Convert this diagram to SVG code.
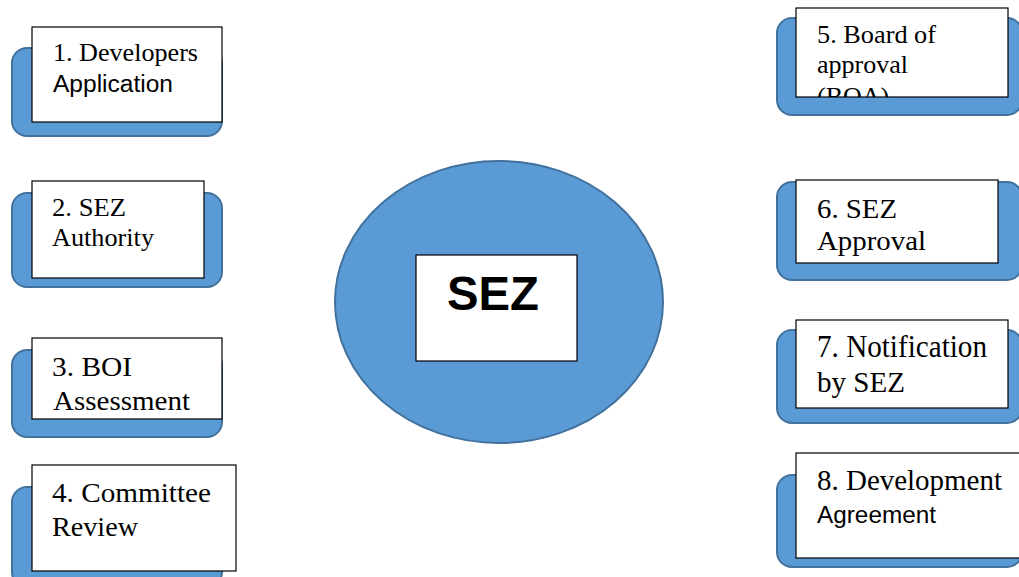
<svg xmlns="http://www.w3.org/2000/svg" width="1019" height="577" viewBox="0 0 1019 577">
<style>
.bg{fill:#5B9BD5;stroke:#41719C;stroke-width:2}
.box{fill:#FFFFFF;stroke:#000000;stroke-width:1.2}
.t{font-family:"Liberation Serif","Times New Roman",serif;fill:#000}
.s{font-family:"Liberation Sans",Arial,sans-serif;fill:#000}
.c{font-family:"Liberation Sans",Arial,sans-serif;font-weight:bold;font-size:48px;fill:#000}
</style>
<defs>
<clipPath id="clip5"><rect x="796" y="8" width="212" height="89"/></clipPath>
</defs>
<rect width="1019" height="577" fill="#FFFFFF"/>
<g id="node1">
<rect class="bg" x="12" y="48" width="210" height="88" rx="15"/>
<rect class="box" x="32" y="27" width="190" height="95"/>
<text class="t" x="53" y="61" font-size="26" textLength="145" lengthAdjust="spacingAndGlyphs">1. Developers</text>
<text class="s" x="53" y="92" font-size="23" textLength="120" lengthAdjust="spacingAndGlyphs">Application</text>
</g>
<g id="node2">
<rect class="bg" x="12" y="193" width="210" height="94" rx="15"/>
<rect class="box" x="32" y="181" width="172" height="97"/>
<text class="t" x="52" y="216" font-size="26" textLength="74" lengthAdjust="spacingAndGlyphs">2. SEZ</text>
<text class="t" x="52" y="246" font-size="26" textLength="102" lengthAdjust="spacingAndGlyphs">Authority</text>
</g>
<g id="node3">
<rect class="bg" x="12" y="350" width="210" height="87" rx="15"/>
<rect class="box" x="32" y="338" width="190" height="81"/>
<text class="t" x="52" y="376" font-size="28" textLength="80" lengthAdjust="spacingAndGlyphs">3. BOI</text>
<text class="t" x="53" y="410" font-size="27" textLength="137" lengthAdjust="spacingAndGlyphs">Assessment</text>
</g>
<g id="node4">
<rect class="bg" x="12" y="487" width="210" height="100" rx="15"/>
<rect class="box" x="32" y="465" width="204" height="106"/>
<text class="t" x="52" y="502" font-size="28" textLength="159" lengthAdjust="spacingAndGlyphs">4. Committee</text>
<text class="t" x="52" y="536" font-size="28" textLength="86" lengthAdjust="spacingAndGlyphs">Review</text>
</g>
<g id="node5">
<rect class="bg" x="777" y="18" width="245" height="97" rx="15"/>
<rect class="box" x="796" y="8" width="212" height="89"/>
<text class="t" x="817" y="43" font-size="26" textLength="119" lengthAdjust="spacingAndGlyphs">5. Board of</text>
<text class="t" x="817" y="73" font-size="26" textLength="91" lengthAdjust="spacingAndGlyphs">approval</text>
<text class="t" x="817" y="105" font-size="26" clip-path="url(#clip5)">(BOA)</text>
</g>
<g id="node6">
<rect class="bg" x="777" y="182" width="245" height="98" rx="15"/>
<rect class="box" x="796" y="180" width="202" height="83"/>
<text class="t" x="817" y="218" font-size="28" textLength="80" lengthAdjust="spacingAndGlyphs">6. SEZ</text>
<text class="t" x="817" y="250" font-size="28" textLength="109" lengthAdjust="spacingAndGlyphs">Approval</text>
</g>
<g id="node7">
<rect class="bg" x="777" y="330" width="245" height="93" rx="15"/>
<rect class="box" x="796" y="320" width="212" height="88"/>
<text class="t" x="817" y="357" font-size="31" textLength="170" lengthAdjust="spacingAndGlyphs">7. Notification</text>
<text class="t" x="817" y="392" font-size="30" textLength="88" lengthAdjust="spacingAndGlyphs">by SEZ</text>
</g>
<g id="node8">
<rect class="bg" x="777" y="475" width="245" height="92" rx="15"/>
<rect class="box" x="796" y="453" width="230" height="105"/>
<text class="t" x="817" y="490" font-size="29" textLength="185" lengthAdjust="spacingAndGlyphs">8. Development</text>
<text class="s" x="817" y="523" font-size="23" textLength="119" lengthAdjust="spacingAndGlyphs">Agreement</text>
</g>
<g id="center">
<ellipse class="bg" cx="499" cy="302" rx="164" ry="141"/>
<rect class="box" x="416" y="255" width="161" height="106"/>
<text class="c" x="447" y="310" textLength="92" lengthAdjust="spacingAndGlyphs">SEZ</text>
</g>
</svg>
